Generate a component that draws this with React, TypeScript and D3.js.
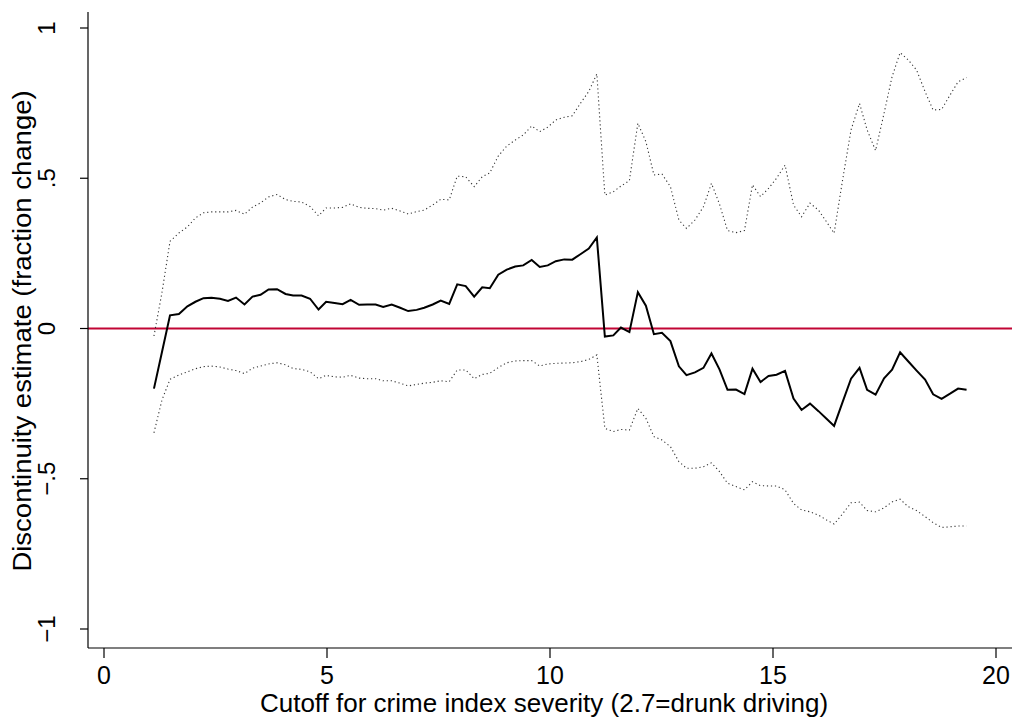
import React, { useEffect, useRef } from 'react';
import * as d3 from 'd3';

// cutoff values (x)
const cutoff = [
  1.12, 1.30, 1.48, 1.68, 1.87, 2.05, 2.23, 2.41, 2.60, 2.78,
  2.96, 3.15, 3.33, 3.51, 3.69, 3.88, 4.07, 4.24, 4.43, 4.62,
  4.81, 4.98, 5.17, 5.35, 5.53, 5.72, 5.90, 6.09, 6.26, 6.45,
  6.64, 6.82, 7.01, 7.18, 7.37, 7.55, 7.74, 7.92, 8.11, 8.30,
  8.48, 8.65, 8.84, 9.03, 9.22, 9.40, 9.59, 9.77, 9.95, 10.13,
  10.32, 10.50, 10.69, 10.87, 11.05, 11.23, 11.42, 11.59, 11.78, 11.97,
  12.15, 12.33, 12.51, 12.70, 12.89, 13.06, 13.25, 13.44, 13.62, 13.80,
  13.98, 14.17, 14.36, 14.54, 14.72, 14.90, 15.08, 15.27, 15.46, 15.64,
  15.83, 16.02, 16.20, 16.37, 16.56, 16.75, 16.94, 17.11, 17.30, 17.49,
  17.67, 17.85, 18.03, 18.22, 18.41, 18.59, 18.78, 18.97, 19.15, 19.34,
];

// discontinuity estimate
const estimate = [
  -0.200, -0.078, 0.044, 0.048, 0.074, 0.089, 0.101, 0.102, 0.099, 0.092,
  0.103, 0.080, 0.106, 0.112, 0.130, 0.131, 0.115, 0.110, 0.110, 0.099,
  0.063, 0.089, 0.085, 0.081, 0.095, 0.079, 0.080, 0.080, 0.072, 0.080,
  0.069, 0.058, 0.062, 0.069, 0.080, 0.093, 0.082, 0.147, 0.141, 0.106,
  0.137, 0.134, 0.179, 0.196, 0.206, 0.210, 0.228, 0.205, 0.210, 0.224,
  0.230, 0.229, 0.248, 0.266, 0.303, -0.027, -0.023, 0.003, -0.012, 0.121,
  0.076, -0.019, -0.014, -0.042, -0.126, -0.155, -0.146, -0.131, -0.083, -0.136,
  -0.204, -0.203, -0.218, -0.134, -0.178, -0.158, -0.154, -0.141, -0.233, -0.271,
  -0.250, -0.275, -0.300, -0.324, -0.245, -0.167, -0.131, -0.204, -0.220, -0.166,
  -0.137, -0.079, -0.109, -0.140, -0.170, -0.219, -0.234, -0.217, -0.200, -0.204,
];

// upper confidence bound
const upperCI = [
  -0.025, 0.120, 0.290, 0.318, 0.338, 0.368, 0.385, 0.388, 0.388, 0.388,
  0.393, 0.380, 0.404, 0.418, 0.438, 0.446, 0.429, 0.423, 0.421, 0.406,
  0.375, 0.401, 0.401, 0.403, 0.415, 0.403, 0.400, 0.399, 0.394, 0.400,
  0.391, 0.381, 0.389, 0.394, 0.411, 0.430, 0.428, 0.507, 0.505, 0.472,
  0.505, 0.518, 0.574, 0.607, 0.627, 0.644, 0.674, 0.655, 0.670, 0.694,
  0.703, 0.708, 0.751, 0.789, 0.847, 0.444, 0.455, 0.474, 0.492, 0.683,
  0.622, 0.511, 0.514, 0.472, 0.361, 0.333, 0.361, 0.405, 0.483, 0.414,
  0.326, 0.319, 0.326, 0.478, 0.439, 0.466, 0.500, 0.544, 0.411, 0.372,
  0.417, 0.394, 0.355, 0.317, 0.494, 0.661, 0.749, 0.661, 0.592, 0.716,
  0.838, 0.918, 0.894, 0.860, 0.788, 0.727, 0.729, 0.777, 0.821, 0.835,
];

// lower confidence bound
const lowerCI = [
  -0.347, -0.238, -0.169, -0.155, -0.144, -0.134, -0.127, -0.125, -0.128, -0.135,
  -0.140, -0.150, -0.132, -0.125, -0.118, -0.114, -0.121, -0.133, -0.136, -0.144,
  -0.167, -0.156, -0.161, -0.162, -0.156, -0.165, -0.167, -0.167, -0.174, -0.174,
  -0.182, -0.191, -0.186, -0.182, -0.179, -0.174, -0.177, -0.138, -0.138, -0.167,
  -0.153, -0.149, -0.130, -0.114, -0.108, -0.107, -0.107, -0.125, -0.118, -0.116,
  -0.115, -0.114, -0.110, -0.103, -0.088, -0.332, -0.343, -0.336, -0.338, -0.266,
  -0.299, -0.360, -0.371, -0.393, -0.443, -0.465, -0.465, -0.460, -0.447, -0.476,
  -0.515, -0.526, -0.537, -0.510, -0.523, -0.524, -0.524, -0.537, -0.582, -0.604,
  -0.610, -0.621, -0.637, -0.651, -0.617, -0.580, -0.578, -0.606, -0.610, -0.597,
  -0.577, -0.568, -0.593, -0.606, -0.626, -0.646, -0.662, -0.660, -0.657, -0.657,
];

const xTicks = [0, 5, 10, 15, 20];
const yTicks = [-1, -0.5, 0, 0.5, 1];
const yTickLabels = ['\u22121', '\u2212.5', '0', '.5', '1'];

const App: React.FC = () => {
  const svgRef = useRef<SVGSVGElement>(null);

  useEffect(() => {
    if (!svgRef.current) return;
    const width = 1016;
    const height = 721;
    const font = "'Liberation Sans', Arial, sans-serif";

    const svg = d3.select(svgRef.current);
    svg.selectAll('*').remove();
    svg.attr('width', width).attr('height', height);

    svg.append('rect').attr('width', width).attr('height', height).attr('fill', '#fff');

    const axisLeft = 88;
    const axisRight = 1012;
    const axisBottom = 648;
    const axisTop = 12;

    const x = d3.scaleLinear().domain([0, 20]).range([104, 996]);
    const y = d3.scaleLinear().domain([-1, 1]).range([629, 28]);

    const idx = d3.range(cutoff.length);

    // zero reference line
    svg.append('line')
      .attr('x1', axisLeft).attr('x2', axisRight)
      .attr('y1', y(0)).attr('y2', y(0))
      .attr('stroke', '#c10534')
      .attr('stroke-width', 2);

    const lineOf = (vals: number[]) =>
      d3.line<number>()
        .x(i => x(cutoff[i]))
        .y(i => y(vals[i]))(idx) || '';

    // confidence bands (dotted)
    [upperCI, lowerCI].forEach(vals => {
      svg.append('path')
        .attr('d', lineOf(vals))
        .attr('fill', 'none')
        .attr('stroke', '#333')
        .attr('stroke-width', 1.1)
        .attr('stroke-dasharray', '1.2,2.8');
    });

    // point estimate
    svg.append('path')
      .attr('d', lineOf(estimate))
      .attr('fill', 'none')
      .attr('stroke', '#000')
      .attr('stroke-width', 2)
      .attr('stroke-linejoin', 'miter');

    // axes
    svg.append('line')
      .attr('x1', axisLeft).attr('x2', axisLeft)
      .attr('y1', axisTop).attr('y2', axisBottom)
      .attr('stroke', '#000').attr('stroke-width', 1.2);
    svg.append('line')
      .attr('x1', axisLeft).attr('x2', axisRight)
      .attr('y1', axisBottom).attr('y2', axisBottom)
      .attr('stroke', '#000').attr('stroke-width', 1.2);

    // x ticks
    const xt = svg.append('g');
    xTicks.forEach(t => {
      xt.append('line')
        .attr('x1', x(t)).attr('x2', x(t))
        .attr('y1', axisBottom).attr('y2', axisBottom + 10)
        .attr('stroke', '#000').attr('stroke-width', 1.2);
      xt.append('text')
        .attr('x', x(t)).attr('y', 684)
        .attr('text-anchor', 'middle')
        .style('font-family', font)
        .style('font-size', '25px')
        .text(String(t));
    });

    // y ticks (labels rotated, Stata style)
    const yt = svg.append('g');
    yTicks.forEach((t, i) => {
      yt.append('line')
        .attr('x1', axisLeft - 8).attr('x2', axisLeft)
        .attr('y1', y(t)).attr('y2', y(t))
        .attr('stroke', '#000').attr('stroke-width', 1.2);
      yt.append('text')
        .attr('transform', `translate(55,${y(t)}) rotate(-90)`)
        .attr('text-anchor', 'middle')
        .style('font-family', font)
        .style('font-size', '24px')
        .text(yTickLabels[i]);
    });

    // axis titles
    svg.append('text')
      .attr('x', 544).attr('y', 712)
      .attr('text-anchor', 'middle')
      .style('font-family', font)
      .style('font-size', '26px')
      .text('Cutoff for crime index severity (2.7=drunk driving)');

    svg.append('text')
      .attr('transform', `translate(31,331) rotate(-90) scale(1.1,1)`)
      .attr('text-anchor', 'middle')
      .style('font-family', font)
      .style('font-size', '25px')
      .text('Discontinuity estimate (fraction change)');
  }, []);

  return (
    <div style={{ position: 'absolute', left: 0, top: 0 }}>
      <svg ref={svgRef} style={{ display: 'block' }} />
    </div>
  );
};

export default App;
